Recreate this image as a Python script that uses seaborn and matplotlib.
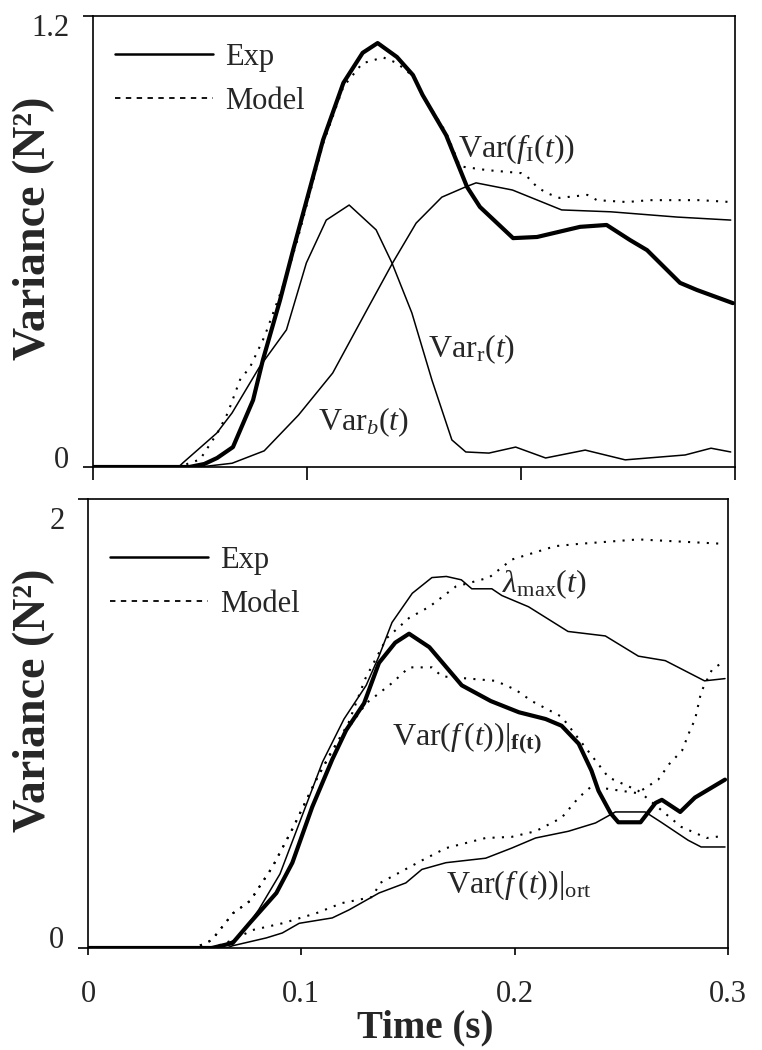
import numpy as np
import pandas as pd
import matplotlib
matplotlib.use("Agg")
import matplotlib.pyplot as plt
import seaborn as sns
from matplotlib.lines import Line2D
from matplotlib.transforms import ScaledTranslation

# ---------------- data ----------------
# Top panel
top_exp_t = [0, 0.045, 0.052, 0.058, 0.0654, 0.0748, 0.0794, 0.0874, 0.0935, 0.1075, 0.117, 0.126,
             0.133, 0.142, 0.1495, 0.154, 0.165, 0.1748, 0.1808, 0.1963, 0.2075, 0.2276, 0.24,
             0.2509, 0.2589, 0.2743, 0.2822, 0.299]
top_exp_v = [0, 0, 0.008, 0.024, 0.053, 0.178, 0.285, 0.444, 0.577, 0.87, 1.022, 1.102,
             1.128, 1.091, 1.043, 0.99, 0.883, 0.745, 0.692, 0.609, 0.612, 0.639, 0.644,
             0.604, 0.577, 0.490, 0.471, 0.436]

top_model_t = [0, 0.04, 0.05, 0.0584, 0.063, 0.0687, 0.0734, 0.0794, 0.0813, 0.09, 0.0953, 0.1075,
               0.117, 0.126, 0.1285, 0.1355, 0.142, 0.1495, 0.154, 0.165, 0.1715, 0.184, 0.2,
               0.203, 0.2075, 0.212, 0.218, 0.231, 0.2355, 0.2495, 0.26, 0.2836, 0.298]
top_model_v = [0, 0, 0.02, 0.093, 0.144, 0.232, 0.266, 0.338, 0.365, 0.50, 0.60, 0.86,
               1.012, 1.075, 1.078, 1.09, 1.075, 1.04, 0.99, 0.89, 0.80, 0.79, 0.782,
               0.772, 0.745, 0.729, 0.716, 0.724, 0.71, 0.705, 0.71, 0.71, 0.705]

top_varr_t = [0, 0.04, 0.042, 0.0578, 0.065, 0.0778, 0.0904, 0.0997, 0.109, 0.1197, 0.1323, 0.1397,
              0.149, 0.1584, 0.1677, 0.1742, 0.185, 0.1975, 0.2115, 0.23, 0.2487, 0.2767, 0.2888, 0.298]
top_varr_v = [0, 0, 0.011, 0.09, 0.144, 0.266, 0.365, 0.543, 0.657, 0.697, 0.631, 0.543,
              0.41, 0.231, 0.072, 0.04, 0.037, 0.053, 0.024, 0.045, 0.019, 0.032, 0.05, 0.04]

top_varb_t = [0, 0.05, 0.065, 0.08, 0.096, 0.112, 0.128, 0.14, 0.151, 0.163, 0.174, 0.179,
              0.196, 0.219, 0.242, 0.273, 0.298]
top_varb_v = [0, 0, 0.01, 0.043, 0.138, 0.25, 0.418, 0.543, 0.649, 0.718, 0.745, 0.756,
              0.737, 0.684, 0.679, 0.665, 0.657]

# Bottom panel
bot_exp_t = [0, 0.058, 0.0678, 0.0757, 0.0883, 0.0958, 0.1051, 0.1145, 0.121, 0.1294, 0.1364, 0.144,
             0.1505, 0.16, 0.1752, 0.1888, 0.202, 0.2145, 0.222, 0.23, 0.236, 0.2393, 0.245,
             0.2486, 0.259, 0.266, 0.269, 0.2776, 0.2845, 0.2986]
bot_exp_v = [0, 0, 0.022, 0.11, 0.245, 0.38, 0.628, 0.84, 0.97, 1.09, 1.27, 1.36,
             1.40, 1.34, 1.17, 1.10, 1.05, 1.02, 0.99, 0.91, 0.79, 0.70, 0.60,
             0.56, 0.56, 0.646, 0.66, 0.606, 0.67, 0.75]

lam_exp_t = [0, 0.06, 0.07, 0.08, 0.09, 0.1, 0.11, 0.12, 0.1304, 0.1364, 0.1425, 0.152, 0.1612,
             0.168, 0.175, 0.1799, 0.1893, 0.194, 0.2065, 0.225, 0.2425, 0.258, 0.2706, 0.289, 0.2986]
lam_exp_v = [0, 0, 0.04, 0.17, 0.33, 0.58, 0.83, 1.02, 1.17, 1.30, 1.45, 1.58, 1.65,
             1.655, 1.64, 1.60, 1.60, 1.57, 1.52, 1.41, 1.39, 1.30, 1.28, 1.19, 1.20]

lam_model_t = [0, 0.05, 0.058, 0.068, 0.076, 0.0864, 0.0958, 0.107, 0.1145, 0.122, 0.13, 0.14,
               0.1505, 0.16, 0.1724, 0.188, 0.1986, 0.219, 0.23, 0.258, 0.2986]
lam_model_v = [0, 0, 0.035, 0.155, 0.21, 0.36, 0.53, 0.75, 0.88, 1.0, 1.2, 1.38,
               1.47, 1.52, 1.61, 1.65, 1.73, 1.79, 1.80, 1.82, 1.80]

varf_model_t = [0, 0.05, 0.058, 0.068, 0.076, 0.0864, 0.0958, 0.107, 0.1145, 0.1304, 0.1425, 0.1505,
                0.1612, 0.1659, 0.1911, 0.2005, 0.208, 0.222, 0.244, 0.258, 0.278, 0.29, 0.2986]
varf_model_v = [0, 0, 0.035, 0.155, 0.21, 0.36, 0.53, 0.75, 0.88, 1.09, 1.18, 1.25,
                1.25, 1.21, 1.19, 1.15, 1.10, 1.03, 0.76, 0.70, 0.54, 0.49, 0.50]

ort_exp_t = [0, 0.065, 0.0678, 0.0836, 0.0911, 0.099, 0.1145, 0.1224, 0.1364, 0.149, 0.1565, 0.1678,
             0.1864, 0.1986, 0.2098, 0.2252, 0.2379, 0.2472, 0.2612, 0.2687, 0.2813, 0.2874, 0.2986]
ort_exp_v = [0, 0, 0.01, 0.045, 0.067, 0.11, 0.134, 0.17, 0.245, 0.29, 0.35, 0.38,
             0.40, 0.445, 0.49, 0.52, 0.557, 0.606, 0.606, 0.56, 0.48, 0.45, 0.45]

ort_model_t = [0, 0.058, 0.0678, 0.0771, 0.0911, 0.107, 0.119, 0.1332, 0.137, 0.1565, 0.1678, 0.1864,
               0.1986, 0.2098, 0.222, 0.23, 0.236, 0.25, 0.2575, 0.2673, 0.2725, 0.2785, 0.2818,
               0.2846, 0.2874, 0.2925, 0.2986]
ort_model_v = [0, 0, 0.035, 0.08, 0.11, 0.155, 0.2, 0.227, 0.29, 0.39, 0.445, 0.49,
               0.495, 0.52, 0.58, 0.67, 0.72, 0.70, 0.69, 0.75, 0.82, 0.88, 0.96,
               1.02, 1.14, 1.24, 1.28]

x_ticks = [0, 0.1, 0.2, 0.3]
x_ticklabels = ["0", "0.1", "0.2", "0.3"]
top_yticks = [0, 1.2]
top_yticklabels = ["0", "1.2"]
bot_yticks = [0, 2]
bot_yticklabels = ["0", "2"]

# ---------------- style ----------------
sns.set_style("ticks")
plt.rcParams['font.family'] = ['Liberation Serif', 'DejaVu Serif']
plt.rcParams['mathtext.fontset'] = 'custom'
plt.rcParams['mathtext.rm'] = 'Liberation Serif'
plt.rcParams['mathtext.it'] = 'Liberation Serif:italic'
plt.rcParams['mathtext.bf'] = 'Liberation Serif:bold'
plt.rcParams['axes.edgecolor'] = 'black'

STYLES = {
    'thick': dict(linewidth=3.0, linestyle='-'),
    'thin': dict(linewidth=1.1, linestyle='-'),
    'model': dict(linewidth=1.5, linestyle=(0, (1, 3.5))),
}

fig = plt.figure(figsize=(7.62, 10.5), dpi=100)
ax1 = fig.add_axes([93 / 762, 1 - 467 / 1050, (735 - 93) / 762, (467 - 16) / 1050])
ax2 = fig.add_axes([88 / 762, 1 - 948 / 1050, (728 - 88) / 762, (948 - 499) / 1050])


def draw(ax, t, v, kind):
    df = pd.DataFrame({'t': t, 'v': v})
    sns.lineplot(data=df, x='t', y='v', ax=ax, color='black', estimator=None,
                 sort=False, **STYLES[kind])


# top
draw(ax1, top_varr_t, top_varr_v, 'thin')
draw(ax1, top_varb_t, top_varb_v, 'thin')
draw(ax1, top_model_t, top_model_v, 'model')
draw(ax1, top_exp_t, top_exp_v, 'thick')

# bottom
draw(ax2, lam_exp_t, lam_exp_v, 'thin')
draw(ax2, ort_exp_t, ort_exp_v, 'thin')
draw(ax2, lam_model_t, lam_model_v, 'model')
draw(ax2, varf_model_t, varf_model_v, 'model')
draw(ax2, ort_model_t, ort_model_v, 'model')
draw(ax2, bot_exp_t, bot_exp_v, 'thick')

for ax, yt, ytl, ymax in [(ax1, top_yticks, top_yticklabels, 1.2),
                           (ax2, bot_yticks, bot_yticklabels, 2)]:
    ax.set_xlim(0, 0.3)
    ax.set_ylim(0, ymax)
    ax.set_xticks(x_ticks)
    ax.set_yticks(yt)
    ax.set_yticklabels(ytl)
    ax.set_xlabel('')
    ax.set_ylabel('')
    for s in ax.spines.values():
        s.set_visible(True)
        s.set_linewidth(1.2)
        s.set_color('black')
    ax.tick_params(direction='out', length=7, width=1.2, labelsize=22, color='black')
    ax.tick_params(axis='y', pad=10)

ax1.set_xticklabels([''] * len(x_ticks))
ax1.tick_params(axis='x', length=9)
ax2.set_xticklabels(x_ticklabels)
ax2.tick_params(axis='x', pad=18, length=5)

# shift y tick labels like the original
def shift_labels(ax, shifts):
    for lab, dy in zip(ax.get_yticklabels(), shifts):
        lab.set_transform(lab.get_transform() + ScaledTranslation(0, dy / 100, fig.dpi_scale_trans))

shift_labels(ax1, [10, -9])
shift_labels(ax2, [11, -19])

# legends
handles = [Line2D([], [], color='black', linewidth=1.8, linestyle='-'),
           Line2D([], [], color='black', linewidth=1.3, linestyle=(0, (3, 3)))]
for ax, top in [(ax1, 0.940), (ax2, 0.895)]:
    ax.legend(handles, ['Exp', 'Model'], loc='upper left', bbox_to_anchor=(0.034, top),
              frameon=False, fontsize=22, handlelength=3.2, handletextpad=0.4,
              labelspacing=0.48, borderpad=0, borderaxespad=0)

# curve labels
FS = 23
ax1.text(0.1706, 0.825, r'$\mathrm{Var}(f_{\mathrm{I}}(t))$', fontsize=FS, va='baseline')
ax1.text(0.1565, 0.293, r'$\mathrm{Var}_{\mathrm{r}}(t)$', fontsize=FS, va='baseline')
ax1.text(0.105, 0.098, r'$\mathrm{Var}_{b}(t)$', fontsize=FS, va='baseline')

ax2.text(0.194, 1.586, r'$\lambda_{\mathrm{max}}(t)$', fontsize=FS, va='baseline')
ax2.text(0.1425, 0.904, r'$\mathrm{Var}(f\,(t))|_{\mathbf{f(t)}}$', fontsize=FS, va='baseline')
ax2.text(0.1678, 0.245, r'$\mathrm{Var}(f\,(t))|_{\mathrm{ort}}$', fontsize=FS, va='baseline')

# axis titles
fig.text(34 / 762, 1 - 228 / 1050, 'Variance (N²)', rotation=90, fontsize=33,
         fontweight='bold', ha='center', va='center')
fig.text(34 / 762, 1 - 700 / 1050, 'Variance (N²)', rotation=90, fontsize=33,
         fontweight='bold', ha='center', va='center')
fig.text(425 / 762, 1 - 1028 / 1050, 'Time (s)', fontsize=28, fontweight='bold',
         ha='center', va='center')

fig.savefig('out.png', dpi=100)
